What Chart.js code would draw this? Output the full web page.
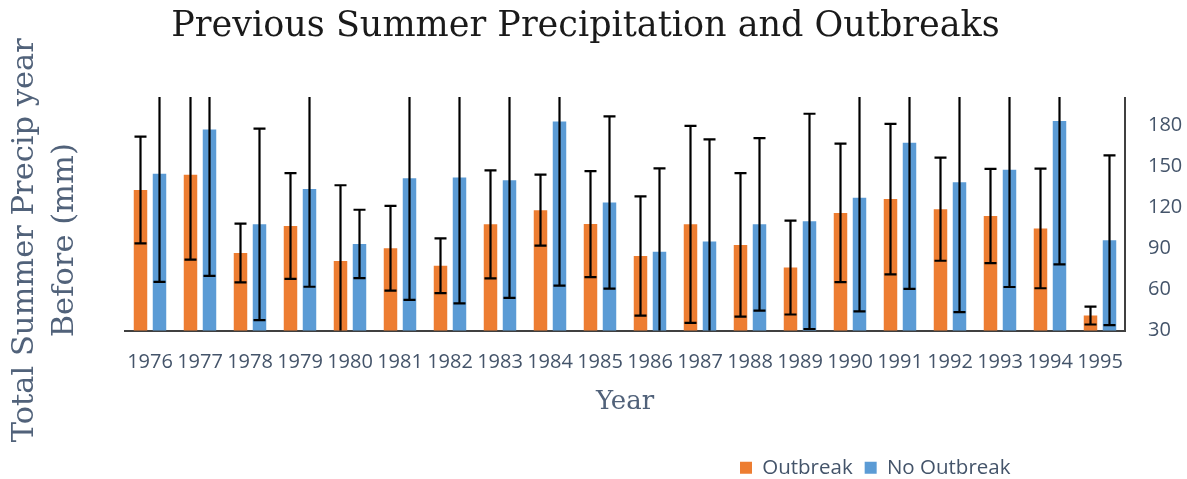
<!DOCTYPE html>
<html>
<head>
<meta charset="utf-8">
<script src="https://cdn.jsdelivr.net/npm/chart.js@4/dist/chart.umd.min.js"></script>
<style>
html,body{margin:0;padding:0;background:#fff}
#wrap{width:1187px;height:479px;position:relative}
</style>
</head>
<body>
<div id="wrap"><canvas id="chart"></canvas></div>
<script>
// data (mm)
const years=["1976","1977","1978","1979","1980","1981","1982","1983","1984","1985","1986","1987","1988","1989","1990","1991","1992","1993","1994","1995"];
const outbreak=[132.7,143.8,86.7,106.4,80.8,90.1,77.3,107.6,118,107.8,84.5,107.6,92.6,76,116,126.1,118.7,113.7,104.6,40.9];
const outbreakErr=[39,62,21.5,38.7,55.4,31,20,39.5,26,38.7,43.6,72,52.5,34.3,50.7,55,37.7,34.5,43.7,6.5];
const noOutbreak=[144.6,177,107.6,133.5,93.3,141.4,141.8,139.9,182.8,123.6,87.6,95,107.6,109.8,127,167.2,138.4,147.5,183.2,96];
const noOutbreakErr=[79,107,70,71.5,25,89,92,86,120,63,61,74.7,63,78.7,83,106.7,95,85.7,104.8,62];
const yTicks=[30,60,90,120,150,180];

const tickCol="#44546A", titleCol="#51627a";

// error bars, drawn from the y scale, clipped to the plot
const errorBars={
  id:"errorBars",
  afterDatasetsDraw(chart){
    const {ctx,chartArea:a}=chart;
    ctx.save();
    ctx.beginPath(); ctx.rect(a.left,a.top-1,a.right-a.left,a.bottom-a.top+1); ctx.clip();
    ctx.strokeStyle="#000"; ctx.lineWidth=2.2;
    chart.data.datasets.forEach((ds,i)=>{
      const meta=chart.getDatasetMeta(i), ys=chart.scales[meta.yAxisID];
      meta.data.forEach((bar,j)=>{
        const v=ds.data[j], e=ds.errors[j];
        const yt=ys.getPixelForValue(v+e), yb=ys.getPixelForValue(v-e);
        ctx.beginPath();
        ctx.moveTo(bar.x,yt); ctx.lineTo(bar.x,yb);
        ctx.moveTo(bar.x-6,yt); ctx.lineTo(bar.x+6,yt);
        ctx.moveTo(bar.x-6,yb); ctx.lineTo(bar.x+6,yb);
        ctx.stroke();
      });
    });
    ctx.restore();
  }
};

// nudge legend, title and left axis title to where the original has them
const placeBoxes={
  id:"placeBoxes",
  afterLayout(chart){
    const lg=chart.legend;
    lg.left=728; lg.right=1187; lg.top+=9; lg.bottom+=9;
    const t=chart.titleBlock;
    t.left-=16;
    chart.scales.yl.bottom+=52;
  }
};

new Chart(document.getElementById("chart"),{
  type:"bar",
  data:{
    labels:years,
    datasets:[
      {label:"Outbreak",data:outbreak,errors:outbreakErr,backgroundColor:"#ED7D31",yAxisID:"y"},
      {label:"No Outbreak",data:noOutbreak,errors:noOutbreakErr,backgroundColor:"#5B9BD5",yAxisID:"y"}
    ]
  },
  options:{
    responsive:true,maintainAspectRatio:false,animation:false,
    categoryPercentage:0.76,barPercentage:0.71,
    layout:{padding:0},
    plugins:{
      title:{display:true,text:"Previous Summer Precipitation and Outbreaks",color:"#1a1a1a",
        font:{family:"DejaVu Serif",size:35,weight:"normal"},padding:{top:6,bottom:50}},
      legend:{position:"bottom",align:"start",
        labels:{boxWidth:12,boxHeight:12,padding:12,color:tickCol,font:{family:"Open Sans",size:20.5}}},
      tooltip:{enabled:false}
    },
    scales:{
      x:{
        grid:{display:false,drawTicks:false},
        border:{display:true,color:"#404040",width:2},
        ticks:{autoSkip:false,maxRotation:0,minRotation:0,padding:20,color:tickCol,font:{family:"Open Sans",size:20}},
        title:{display:true,text:"Year",color:titleCol,font:{family:"DejaVu Serif",size:26},padding:{top:0,bottom:19}},
        afterFit(s){s.height=106;}
      },
      y:{
        position:"right",min:30,max:200,
        afterBuildTicks(s){s.ticks=yTicks.map(v=>({value:v}));},
        grid:{display:false,drawTicks:false},
        border:{display:true,color:"#404040",width:2},
        ticks:{padding:23,color:tickCol,font:{family:"Open Sans",size:20}},
        afterFit(s){s.width=62;}
      },
      yl:{
        position:"left",min:30,max:200,
        grid:{display:false,drawTicks:false},
        border:{display:false},
        ticks:{display:false},
        title:{display:true,text:["Total Summer Precip year","Before (mm)"],color:titleCol,
          font:{family:"DejaVu Serif",size:30.5,lineHeight:1.32},padding:{top:5,bottom:0}},
        afterFit(s){s.width=125;}
      }
    }
  },
  plugins:[errorBars,placeBoxes]
});
</script>
</body>
</html>
